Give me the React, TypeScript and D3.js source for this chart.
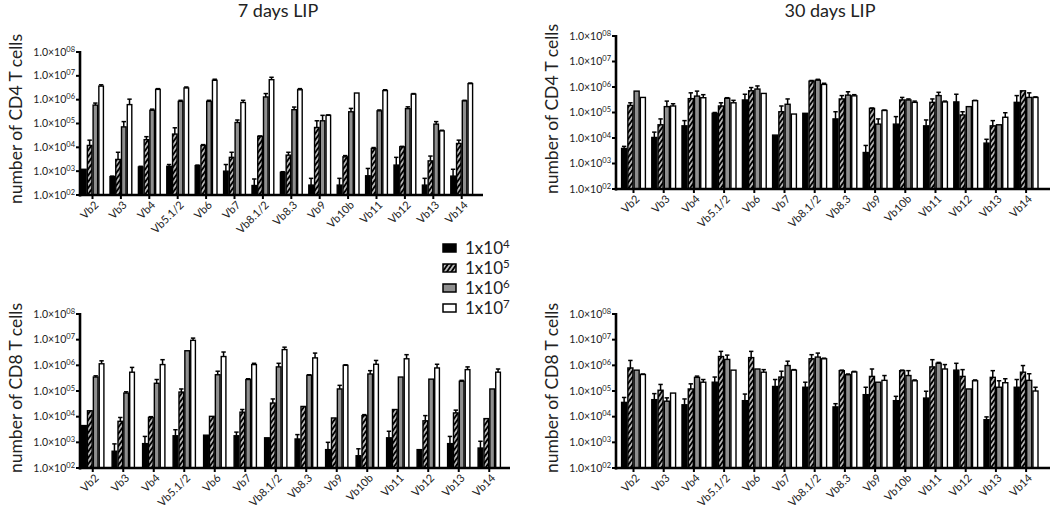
import React from "react";
import * as d3 from "d3";

const categories = ["Vb2", "Vb3", "Vb4", "Vb5.1/2", "Vb6", "Vb7", "Vb8.1/2", "Vb8.3", "Vb9", "Vb10b", "Vb11", "Vb12", "Vb13", "Vb14"];
const seriesKeys = ["1e4", "1e5", "1e6", "1e7"];
const legendExponents = ["4", "5", "6", "7"];
const tickExponents = [2, 3, 4, 5, 6, 7, 8];

// CD4, 7 days LIP
const cd4d7Mean = [
  [1.2e3, 5.9e2, 1.5e3, 1.6e3, 1.7e3, 1.0e3, 2.5e2, 8.9e2, 2.6e2, 2.6e2, 6.4e2, 1.8e3, 2.6e2, 6.2e2],
  [1.2e4, 3.1e3, 2.1e4, 3.6e4, 1.2e4, 3.8e3, 2.9e4, 4.7e3, 6.8e4, 4.0e3, 8.9e3, 1.05e4, 2.7e3, 1.45e4],
  [5.9e5, 7.2e4, 3.6e5, 8.5e5, 8.5e5, 1.1e5, 1.3e6, 3.8e5, 1.3e5, 3.1e5, 3.4e5, 4.2e5, 9.4e4, 8.9e5],
  [3.7e6, 6.2e5, 2.7e6, 3.1e6, 6.5e6, 7.6e5, 6.9e6, 2.6e6, 2.2e5, 1.9e6, 2.4e6, 1.7e6, 4.9e4, 4.7e6],
];
const cd4d7Upper = [
  [1.2e3, 6.2e2, 1.6e3, 1.9e3, 1.8e3, 1.9e3, 4.7e2, 9.5e2, 5.0e2, 5.0e2, 1.3e3, 3.8e3, 5.0e2, 1.2e3],
  [2.0e4, 6.2e3, 2.8e4, 6.6e4, 1.3e4, 6.2e3, 3.0e4, 6.2e3, 1.3e5, 4.5e3, 9.8e3, 1.1e4, 4.3e3, 2.0e4],
  [7.2e5, 1.2e5, 4.0e5, 9.4e5, 9.4e5, 1.4e5, 1.8e6, 4.9e5, 2.2e5, 4.3e5, 3.7e5, 5.0e5, 1.2e5, 9.4e5],
  [4.2e6, 1.05e6, 2.9e6, 3.4e6, 7.2e6, 9.4e5, 8.7e6, 2.9e6, 2.3e5, 1.9e6, 2.6e6, 1.8e6, 5.2e4, 5.0e6],
];

// CD4, 30 days LIP
const cd4d30Mean = [
  [3.9e3, 1.05e4, 3.0e4, 9.3e4, 3.1e5, 1.3e4, 9.3e4, 5.6e4, 2.7e3, 3.5e4, 3.0e4, 2.6e5, 6.3e3, 2.5e5],
  [1.9e5, 3.3e4, 3.5e5, 1.8e5, 7.1e5, 1.07e5, 1.7e6, 3.4e5, 1.45e5, 3.1e5, 2.5e5, 8.0e4, 3.0e4, 7.1e5],
  [6.9e5, 1.7e5, 4.4e5, 3.6e5, 8.3e5, 2.1e5, 1.85e6, 4.8e5, 3.5e4, 3.1e5, 4.6e5, 1.7e5, 3.3e4, 3.9e5],
  [3.9e5, 1.8e5, 3.8e5, 2.4e5, 5.6e5, 8.7e4, 1.26e6, 4.5e5, 1.2e5, 2.5e5, 2.6e5, 2.9e5, 6.5e4, 3.9e5],
];
const cd4d30Upper = [
  [4.7e3, 1.7e4, 4.8e4, 1.0e5, 5.2e5, 1.3e4, 9.3e4, 1.07e5, 5.1e3, 6.9e4, 5.1e4, 5.2e5, 8.9e3, 4.6e5],
  [2.4e5, 5.6e4, 5.9e5, 2.4e5, 9.5e5, 1.8e5, 1.8e6, 4.6e5, 1.5e5, 3.9e5, 3.4e5, 1.07e5, 4.8e4, 7.1e5],
  [6.9e5, 2.8e5, 6.9e5, 3.8e5, 1.1e6, 3.4e5, 2.0e6, 6.5e5, 5.6e4, 3.4e5, 6.2e5, 1.7e5, 3.3e4, 5.9e5],
  [3.9e5, 2.2e5, 5.0e5, 3.0e5, 5.6e5, 8.7e4, 1.4e6, 5.0e5, 1.25e5, 2.8e5, 2.8e5, 3.0e5, 9.8e4, 4.1e5],
];

// CD8, 7 days LIP
const cd8d7Mean = [
  [4.5e3, 4.5e2, 8.9e2, 1.8e3, 1.9e3, 1.8e3, 1.5e3, 1.35e3, 5.2e2, 3.0e2, 1.5e3, 5.2e2, 8.9e2, 6.0e2],
  [1.7e4, 6.6e3, 9.3e3, 9.1e4, 1.03e4, 1.5e4, 3.4e4, 2.5e4, 8.9e3, 1.1e4, 1.9e4, 6.9e3, 1.4e4, 8.4e3],
  [3.5e5, 8.3e4, 2.0e5, 3.7e6, 4.3e5, 2.8e5, 8.7e5, 4.1e5, 1.2e5, 4.6e5, 3.5e5, 2.9e5, 2.4e5, 1.2e5],
  [1.15e6, 5.4e5, 1.07e6, 9.4e6, 2.2e6, 1.07e6, 4.1e6, 1.95e6, 1.0e6, 1.1e6, 1.8e6, 7.9e5, 6.8e5, 5.4e5],
];
const cd8d7Upper = [
  [4.5e3, 8.7e2, 1.7e3, 3.1e3, 1.9e3, 2.5e3, 1.5e3, 2.0e3, 1.0e3, 5.6e2, 2.7e3, 5.2e2, 1.7e3, 1.1e3],
  [1.7e4, 9.3e3, 1.0e4, 1.2e5, 1.03e4, 1.9e4, 4.9e4, 2.5e4, 8.9e3, 1.2e4, 1.9e4, 1.1e4, 1.8e4, 8.4e3],
  [3.9e5, 9.3e4, 2.8e5, 3.7e6, 5.9e5, 3.0e5, 1.2e6, 4.3e5, 1.66e5, 6.2e5, 3.5e5, 2.9e5, 2.6e5, 1.2e5],
  [1.5e6, 8.3e5, 1.66e6, 1.15e7, 3.3e6, 1.2e6, 5.1e6, 3.0e6, 1.05e6, 1.55e6, 2.6e6, 1.1e6, 8.7e5, 7.2e5],
];

// CD8, 30 days LIP
const cd8d30Mean = [
  [3.6e4, 4.6e4, 2.9e4, 2.2e5, 4.2e4, 1.5e5, 1.4e5, 2.4e4, 7.2e4, 4.2e4, 5.3e4, 6.5e5, 7.6e3, 1.4e5],
  [7.9e5, 1.07e5, 1.2e5, 2.2e6, 2.0e6, 3.5e5, 1.8e6, 6.2e5, 3.7e5, 6.2e5, 8.7e5, 3.7e5, 3.4e5, 5.4e5],
  [6.5e5, 4.0e4, 3.4e5, 1.7e6, 7.2e5, 9.8e5, 2.1e6, 4.3e5, 2.2e5, 4.0e5, 1.2e6, 1.2e5, 1.4e5, 2.6e5],
  [4.4e5, 8.3e4, 2.2e5, 6.5e5, 5.4e5, 6.5e5, 1.8e6, 5.5e5, 2.6e5, 2.5e5, 7.2e5, 2.5e5, 2.1e5, 1.0e5],
];
const cd8d30Upper = [
  [5.6e4, 7.9e4, 4.9e4, 3.5e5, 7.6e4, 2.8e5, 2.2e5, 3.2e4, 1.4e5, 6.2e4, 9.8e4, 1.2e6, 9.8e3, 2.8e5],
  [1.55e6, 1.8e5, 1.9e5, 3.5e6, 3.5e6, 5.9e5, 2.6e6, 6.5e5, 7.2e5, 6.5e5, 1.66e6, 6.8e5, 6.2e5, 9.8e5],
  [6.5e5, 5.4e4, 3.8e5, 2.5e6, 7.2e5, 1.45e6, 3.0e6, 4.6e5, 2.2e5, 6.2e5, 1.3e6, 1.2e5, 2.5e5, 4.7e5],
  [4.6e5, 8.3e4, 2.8e5, 6.5e5, 6.8e5, 6.8e5, 1.9e6, 5.8e5, 4.0e5, 2.7e5, 1.07e6, 2.7e5, 3.0e5, 1.4e5],
];

const FONT = "Lato, 'Open Sans', sans-serif";
const fills = ["#000", "url(#hatch)", "#8f8f8f", "#fff"];

type PanelProps = {
  mean: number[][];
  upper: number[][];
  axisX: number;
  axisEnd: number;
  yTop: number;
  yBottom: number;
  bandStart: number;
  step: number;
  bw: number;
  ylabel: string;
  labelBaseX: number;
  labelCenterY: number;
};

function Panel(p: PanelProps) {
  const n = categories.length;
  const x = d3
    .scaleBand<string>()
    .domain(categories)
    .range([p.bandStart, p.bandStart + p.step * (n - 1) + p.bw])
    .paddingInner(1 - p.bw / p.step)
    .paddingOuter(0);
  const xs = d3.scaleBand<string>().domain(seriesKeys).range([0, x.bandwidth()]).padding(0);
  const y = d3.scaleLog().domain([1e2, 1e8]).range([p.yBottom, p.yTop]);
  const bwSeries = xs.bandwidth();

  return (
    <g>
      {categories.map((c, ci) => (
        <g key={c}>
          {seriesKeys.map((s, si) => {
            const v = p.mean[si][ci];
            const u = p.upper[si][ci];
            const bx = (x(c) as number) + (xs(s) as number);
            const yv = y(v);
            const cx = bx + bwSeries / 2;
            return (
              <g key={s}>
                {u > v * 1.03 && (
                  <g stroke="#000" strokeWidth={1.5}>
                    <line x1={cx} x2={cx} y1={yv} y2={y(u)} />
                    <line x1={cx - 2.2} x2={cx + 2.2} y1={y(u)} y2={y(u)} />
                  </g>
                )}
                <rect
                  x={bx + 0.6}
                  y={yv}
                  width={bwSeries - 1.2}
                  height={p.yBottom - yv}
                  fill={fills[si]}
                  stroke="#000"
                  strokeWidth={1.4}
                />
              </g>
            );
          })}
        </g>
      ))}
      <line x1={p.axisX} x2={p.axisX} y1={p.yTop - 1} y2={p.yBottom + 1.5} stroke="#000" strokeWidth={2.6} />
      <line x1={p.axisX - 1.3} x2={p.axisEnd} y1={p.yBottom} y2={p.yBottom} stroke="#000" strokeWidth={2.6} />
      {tickExponents.map((e) => {
        const ty = y(Math.pow(10, e));
        return (
          <g key={e}>
            <line x1={p.axisX - 4} x2={p.axisX} y1={ty} y2={ty} stroke="#000" strokeWidth={2} />
            <text x={p.axisX - 5} y={ty + 3.5} textAnchor="end" fontSize={10.5} fontFamily={FONT} fill="#222">
              1.0×10
              <tspan dy={-4} fontSize={7.5}>{String(e).padStart(2, "0")}</tspan>
            </text>
          </g>
        );
      })}
      {categories.map((c) => {
        const cx = (x(c) as number) + x.bandwidth() / 2;
        return (
          <g key={c}>
            <line x1={cx} x2={cx} y1={p.yBottom} y2={p.yBottom + 4} stroke="#000" strokeWidth={2} />
            <text
              transform={`translate(${cx + 4},${p.yBottom + 8}) rotate(-45)`}
              textAnchor="end"
              dy="0.35em"
              fontSize={11}
              fontFamily={FONT}
              fill="#222"
            >
              {c}
            </text>
          </g>
        );
      })}
      <text
        transform={`translate(${p.labelBaseX},${p.labelCenterY}) rotate(-90)`}
        textAnchor="middle"
        fontSize={17.5}
        fontFamily={FONT}
        fill="#222"
      >
        {p.ylabel}
      </text>
    </g>
  );
}

export default function App() {
  return (
    <svg width={1050} height={508} style={{ position: "absolute", left: 0, top: 0, background: "#fff" }}>
      <defs>
        <pattern id="hatch" patternUnits="userSpaceOnUse" width={3.6} height={3.6} patternTransform="rotate(35)">
          <rect width={3.6} height={3.6} fill="#000" />
          <line x1={1.8} x2={1.8} y1={0} y2={3.6} stroke="#fff" strokeWidth={1.3} />
        </pattern>
      </defs>
      <text x={278} y={17} textAnchor="middle" fontSize={18} fontFamily={FONT} fill="#222">7 days LIP</text>
      <text x={830} y={17} textAnchor="middle" fontSize={18} fontFamily={FONT} fill="#222">30 days LIP</text>

      <Panel mean={cd4d7Mean} upper={cd4d7Upper} axisX={80} axisEnd={483} yTop={52} yBottom={195}
        bandStart={81} step={28.4} bw={23} ylabel="number of CD4 T cells" labelBaseX={22} labelCenterY={119} />
      <Panel mean={cd4d30Mean} upper={cd4d30Upper} axisX={616} axisEnd={1050} yTop={36} yBottom={189}
        bandStart={621} step={30.2} bw={25} ylabel="number of CD4 T cells" labelBaseX={558} labelCenterY={109} />
      <Panel mean={cd8d7Mean} upper={cd8d7Upper} axisX={80} axisEnd={510} yTop={314} yBottom={468}
        bandStart={81} step={30.5} bw={23.5} ylabel="number of CD8 T cells" labelBaseX={22} labelCenterY={388} />
      <Panel mean={cd8d30Mean} upper={cd8d30Upper} axisX={616} axisEnd={1050} yTop={314} yBottom={468}
        bandStart={621} step={30.2} bw={25} ylabel="number of CD8 T cells" labelBaseX={558} labelCenterY={388} />

      <g>
        {legendExponents.map((e, i) => {
          const ly = 248 + i * 20;
          return (
            <g key={e}>
              <rect x={443} y={ly - 4} width={13} height={8} fill={fills[i]} stroke="#000" strokeWidth={1.5} />
              <text x={465} y={ly + 5.5} fontSize={17} fontFamily={FONT} fill="#222">
                1x10
                <tspan dy={-6} fontSize={11.5}>{e}</tspan>
              </text>
            </g>
          );
        })}
      </g>
    </svg>
  );
}
